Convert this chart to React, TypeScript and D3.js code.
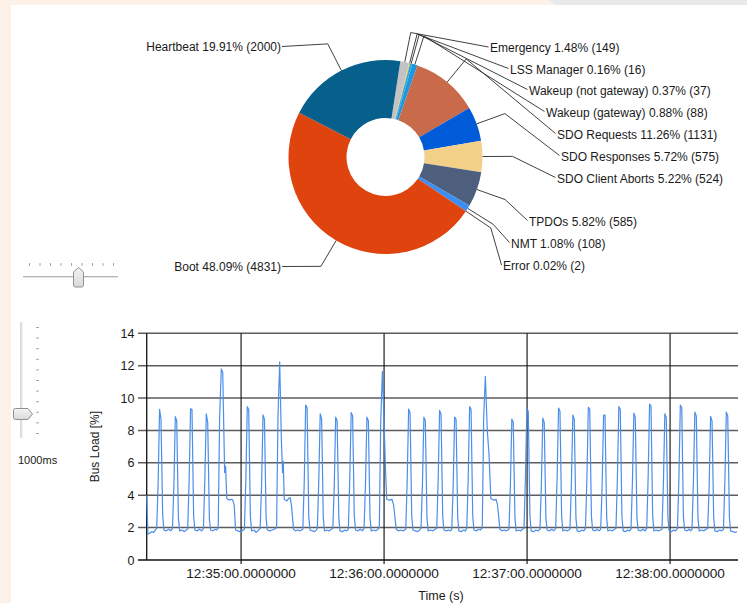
import React, { useEffect, useRef } from 'react'
import * as d3 from 'd3'

const WIDTH = 747
const HEIGHT = 603
const FONT = '"Liberation Sans", Arial, sans-serif'

// pie categories, clockwise from just right of 12 o'clock
const categories = [
    'Emergency',
    'LSS Manager',
    'Wakeup (not gateway)',
    'Wakeup (gateway)',
    'SDO Requests',
    'SDO Responses',
    'SDO Client Aborts',
    'TPDOs',
    'NMT',
    'Error',
    'Boot',
    'Heartbeat'
]
const counts = [149, 16, 37, 88, 1131, 575, 524, 585, 108, 2, 4831, 2000]
const percents = [1.48, 0.16, 0.37, 0.88, 11.26, 5.72, 5.22, 5.82, 1.08, 0.02, 48.09, 19.91]
const sliceColors = [
    '#c3c3c3',
    '#e8d25a',
    '#3aa6d6',
    '#1d98e0',
    '#c96a4b',
    '#005bd9',
    '#f2d088',
    '#4e5f7e',
    '#3b8ff0',
    '#8a8a8a',
    '#e0440e',
    '#07608c'
]

// label positions (x, y centre, anchor) as placed by the chart's smart labels
const labelAnchors: [number, number, string][] = [
    [490, 48, 'start'],
    [510, 69.5, 'start'],
    [529, 90.5, 'start'],
    [546, 112.5, 'start'],
    [557, 134.5, 'start'],
    [561, 156.5, 'start'],
    [557, 178.5, 'start'],
    [529, 221.5, 'start'],
    [511, 243.5, 'start'],
    [503, 266, 'start'],
    [281, 266.5, 'end'],
    [281, 46.5, 'end']
]

// bus load samples: [seconds after 12:34:00, load %]
const busLoad: [number, number][] = [
    [20.4, 4.0], [20.9, 1.6], [21.6, 1.65], [22.5, 1.75], [23.3, 1.7], [24.0, 1.85],
    [24.6, 1.95], [25.2, 4.8], [25.8, 9.3], [26.4, 8.7], [27.1, 2.8], [27.6, 1.85],
    [28.5, 1.8], [29.6, 1.9], [30.5, 1.8],
    [31.2, 1.95], [31.8, 4.5], [32.4, 8.85], [33.0, 8.6], [33.7, 2.6], [34.2, 1.8],
    [35.2, 1.85], [36.2, 1.75], [37.0, 1.85],
    [37.6, 1.9], [38.2, 4.9], [38.8, 9.33], [39.4, 9.3], [40.1, 2.7], [40.6, 1.85],
    [41.6, 1.8], [42.5, 1.9], [43.5, 1.8],
    [44.2, 1.95], [44.8, 5.0], [45.4, 9.02], [46.0, 8.5], [46.7, 2.5], [47.2, 1.85],
    [48.2, 1.8], [49.0, 1.9], [49.8, 1.85],
    [50.4, 2.0], [51.0, 8.8], [51.7, 11.8], [52.3, 11.6], [53.1, 5.4], [53.5, 5.8], [54.0, 3.8],
    [55.0, 3.7], [56.0, 3.75], [56.5, 3.7], [57.1, 3.4], [57.7, 1.85],
    [58.6, 1.8], [59.5, 1.75], [60.5, 1.8],
    [61.4, 1.9], [62.0, 5.0], [62.6, 9.47], [63.2, 9.3], [63.9, 2.7], [64.4, 1.8],
    [65.4, 1.85], [66.4, 1.7], [67.3, 1.85],
    [68.0, 1.95], [68.6, 4.6], [69.2, 8.96], [69.8, 8.7], [70.5, 2.6], [71.0, 1.85],
    [72.0, 1.8], [73.0, 1.85], [74.0, 1.9],
    [74.9, 2.0], [75.5, 9.0], [76.2, 12.23], [76.9, 7.5], [77.4, 5.4], [77.7, 6.1], [78.1, 3.75],
    [79.2, 3.65], [80.0, 3.8], [80.6, 3.85], [81.2, 3.3], [82.0, 1.9],
    [82.8, 1.8], [83.8, 1.85], [84.8, 1.8],
    [85.9, 1.9], [86.5, 4.8], [87.1, 9.57], [87.7, 9.4], [88.4, 2.7], [88.9, 1.85],
    [89.9, 1.8], [90.9, 1.75], [91.5, 1.85],
    [92.0, 1.95], [92.6, 4.9], [93.2, 9.03], [93.8, 8.7], [94.5, 2.6], [95.0, 1.8],
    [96.0, 1.85], [97.0, 1.8], [97.8, 1.9],
    [98.5, 1.95], [99.1, 4.6], [99.7, 8.82], [100.3, 8.6], [101.0, 2.6], [101.5, 1.8],
    [102.5, 1.75], [103.5, 1.85], [104.3, 1.8],
    [105.0, 1.9], [105.6, 5.0], [106.2, 9.11], [106.8, 8.9], [107.5, 2.7], [108.0, 1.85],
    [109.0, 1.8], [110.0, 1.9], [110.9, 1.8],
    [111.6, 1.95], [112.2, 4.7], [112.8, 8.82], [113.4, 8.6], [114.1, 2.6], [114.6, 1.8],
    [115.6, 1.85], [116.6, 1.8], [117.4, 1.9],
    [118.0, 2.0], [118.6, 8.6], [119.3, 11.65], [119.9, 9.0], [120.6, 5.6], [121.1, 3.75],
    [122.3, 3.7], [123.3, 3.75], [124.0, 3.4], [125.1, 1.9],
    [126.0, 1.8], [127.0, 1.85], [127.9, 1.8],
    [129.1, 1.9], [129.7, 4.9], [130.3, 9.32], [130.9, 9.1], [131.6, 2.7], [132.1, 1.85],
    [133.1, 1.8], [134.1, 1.75], [134.9, 1.85],
    [135.5, 1.95], [136.1, 4.7], [136.7, 8.82], [137.3, 8.6], [138.0, 2.6], [138.5, 1.8],
    [139.5, 1.85], [140.5, 1.8], [141.4, 1.9],
    [142.1, 1.95], [142.7, 5.0], [143.3, 9.24], [143.9, 9.0], [144.6, 2.7], [145.1, 1.85],
    [146.1, 1.8], [147.0, 1.85], [147.8, 1.8],
    [148.4, 1.9], [149.0, 4.6], [149.6, 8.82], [150.2, 8.7], [150.9, 2.6], [151.4, 1.8],
    [152.4, 1.75], [153.3, 1.85], [154.1, 1.8],
    [154.7, 1.95], [155.3, 5.1], [155.9, 9.48], [156.5, 9.3], [157.2, 2.7], [157.7, 1.85],
    [158.7, 1.8], [159.6, 1.9], [160.4, 1.85],
    [161.2, 2.0], [161.8, 8.9], [162.5, 11.34], [163.3, 8.0], [164.0, 6.6], [164.8, 3.8],
    [166.0, 3.7], [167.0, 3.75], [167.6, 3.4], [168.6, 1.9],
    [169.5, 1.8], [170.5, 1.85], [171.4, 1.8],
    [172.4, 1.9], [173.0, 4.6], [173.6, 8.7], [174.2, 8.5], [174.9, 2.6], [175.4, 1.8],
    [176.4, 1.85], [177.3, 1.8], [178.0, 1.9],
    [178.7, 1.95], [179.3, 5.0], [179.9, 9.32], [180.5, 9.2], [181.2, 2.7], [181.7, 1.8],
    [182.7, 1.75], [183.7, 1.85], [184.6, 1.8],
    [185.4, 1.9], [186.0, 4.7], [186.6, 8.76], [187.2, 8.5], [187.9, 2.6], [188.4, 1.85],
    [189.4, 1.8], [190.4, 1.9], [191.2, 1.8],
    [192.0, 1.95], [192.6, 5.0], [193.2, 9.38], [193.8, 9.2], [194.5, 2.7], [195.0, 1.8],
    [196.0, 1.85], [196.9, 1.8], [197.5, 1.85],
    [198.0, 1.9], [198.6, 4.8], [199.2, 8.95], [199.8, 8.7], [200.5, 2.6], [201.0, 1.8],
    [202.0, 1.75], [203.0, 1.85], [203.8, 1.8],
    [204.5, 1.95], [205.1, 5.0], [205.7, 9.42], [206.3, 9.3], [207.0, 2.7], [207.5, 1.85],
    [208.5, 1.8], [209.4, 1.9], [210.2, 1.8],
    [210.9, 1.9], [211.5, 4.7], [212.1, 8.95], [212.7, 8.95], [213.4, 2.6], [213.9, 1.8],
    [214.9, 1.85], [215.8, 1.8], [216.6, 1.9],
    [217.3, 1.95], [217.9, 5.1], [218.5, 9.48], [219.1, 9.3], [219.8, 2.7], [220.3, 1.8],
    [221.3, 1.75], [222.2, 1.85], [223.0, 1.8],
    [223.6, 1.9], [224.2, 4.8], [224.8, 9.07], [225.4, 8.8], [226.1, 2.6], [226.6, 1.85],
    [227.6, 1.8], [228.6, 1.9], [229.5, 1.8],
    [230.2, 1.95], [230.8, 5.1], [231.4, 9.63], [232.0, 9.5], [232.7, 2.7], [233.2, 1.8],
    [234.2, 1.85], [235.1, 1.8], [235.9, 1.85],
    [236.6, 1.9], [237.2, 4.7], [237.8, 9.03], [238.4, 8.8], [239.1, 2.6], [239.6, 1.8],
    [240.6, 1.75], [241.5, 1.85], [242.3, 1.8],
    [243.1, 1.95], [243.7, 5.0], [244.3, 9.57], [244.9, 9.4], [245.6, 2.7], [246.1, 1.85],
    [247.1, 1.8], [248.0, 1.9], [248.7, 1.8],
    [249.2, 1.9], [249.8, 4.9], [250.4, 9.13], [251.0, 8.9], [251.7, 2.6], [252.2, 1.8],
    [253.2, 1.85], [254.2, 1.8], [255.1, 1.9],
    [255.8, 1.95], [256.4, 4.6], [257.0, 8.87], [257.6, 8.6], [258.3, 2.6], [258.8, 1.8],
    [259.8, 1.75], [260.8, 1.85], [261.7, 1.8],
    [262.4, 1.9], [263.0, 4.9], [263.6, 9.13], [264.2, 8.9], [264.9, 2.6], [265.4, 1.8],
    [266.4, 1.75], [267.3, 1.7], [268.0, 1.75]
]

const Y_TICKS = [0, 2, 4, 6, 8, 10, 12, 14]
const T0 = new Date(2020, 0, 1, 12, 34, 0).getTime()
const toDate = (s: number) => new Date(T0 + s * 1000)
const TIME_DOMAIN = [20.4, 268.5]

const draw = (el: HTMLDivElement) => {
    d3.select(el).selectAll('*').remove()
    const svg = d3
        .select(el)
        .append('svg')
        .attr('width', WIDTH)
        .attr('height', HEIGHT)
        .attr('style', 'position:absolute;left:0;top:0')
        .style('font-family', FONT)

    // window background
    svg.append('rect').attr('width', WIDTH).attr('height', HEIGHT).attr('fill', '#ffffff')
    svg.append('rect').attr('width', 11).attr('height', HEIGHT).attr('fill', '#fdf2e9')
    svg.append('rect').attr('width', WIDTH).attr('height', 5).attr('fill', '#fdf2e9')
    svg.append('path').attr('d', 'M548,0 L747,0 L747,5 L556,5 Z').attr('fill', '#e7e9ea')

    // ---------- pie ----------
    const cx = 385.5
    const cy = 157
    const start = (8.8 * Math.PI) / 180
    const pie = d3
        .pie<number>()
        .sort(null)
        .value(d => d)
        .startAngle(start)
        .endAngle(start + 2 * Math.PI)
    const arcs = pie(counts)
    const arc = d3.arc<d3.PieArcDatum<number>>().innerRadius(39).outerRadius(97)

    const pieG = svg.append('g').attr('transform', `translate(${cx},${cy})`)
    pieG.selectAll('path')
        .data(arcs)
        .join('path')
        .attr('d', arc)
        .attr('fill', (d, i) => sliceColors[i])

    const polar = (a: number, r: number) => [cx + r * Math.sin(a), cy - r * Math.cos(a)]
    arcs.forEach((d, i) => {
        const mid = (d.startAngle + d.endAngle) / 2
        const [lx, ly, anchor] = labelAnchors[i]
        const p0 = polar(mid, 97)
        const p1 = polar(mid, 127)
        const p2 = anchor === 'start' ? [lx - 1.5, ly - 1] : [lx + 1, ly]
        svg.append('path')
            .attr('d', d3.line()([p0, p1, p2] as [number, number][]))
            .attr('fill', 'none')
            .attr('stroke', '#2b2b2b')
            .attr('stroke-width', 0.9)
        svg.append('text')
            .attr('x', lx)
            .attr('y', ly)
            .attr('dy', '0.35em')
            .attr('text-anchor', anchor)
            .attr('font-size', 12)
            .attr('fill', '#1a1a1a')
            .text(`${categories[i]} ${percents[i].toFixed(2)}% (${counts[i]})`)
    })

    // ---------- bus load line chart ----------
    const x = d3
        .scaleTime()
        .domain(TIME_DOMAIN.map(toDate))
        .range([146.7, 738])
    const y = d3.scaleLinear().domain([0, 14]).range([560, 333.3])

    // horizontal grid + left ticks
    svg.append('g')
        .selectAll('line')
        .data(Y_TICKS.filter(v => v > 0))
        .join('line')
        .attr('x1', 138)
        .attr('x2', 738)
        .attr('y1', d => y(d))
        .attr('y2', d => y(d))
        .attr('stroke', '#5c5c5c')
        .attr('stroke-width', 1.5)

    // vertical grid at each minute
    const minutes = d3.timeMinute.range(toDate(TIME_DOMAIN[0]), toDate(TIME_DOMAIN[1]))
    svg.append('g')
        .selectAll('line')
        .data(minutes)
        .join('line')
        .attr('x1', d => x(d))
        .attr('x2', d => x(d))
        .attr('y1', y(14))
        .attr('y2', 564)
        .attr('stroke', '#1e1e1e')
        .attr('stroke-width', 1.2)

    // axes
    svg.append('line')
        .attr('x1', 146.7)
        .attr('x2', 146.7)
        .attr('y1', y(14))
        .attr('y2', y(0))
        .attr('stroke', '#111')
        .attr('stroke-width', 1.3)
    svg.append('line')
        .attr('x1', 138)
        .attr('x2', 738)
        .attr('y1', y(0))
        .attr('y2', y(0))
        .attr('stroke', '#111')
        .attr('stroke-width', 1.3)

    svg.append('g')
        .selectAll('text')
        .data(Y_TICKS)
        .join('text')
        .attr('x', 134.5)
        .attr('y', d => y(d))
        .attr('dy', '0.36em')
        .attr('text-anchor', 'end')
        .attr('font-size', 12.5)
        .attr('fill', '#1a1a1a')
        .text(d => d)

    const fmt = d3.timeFormat('%H:%M:%S')
    svg.append('g')
        .selectAll('text')
        .data(minutes)
        .join('text')
        .attr('x', d => x(d))
        .attr('y', 577.5)
        .attr('text-anchor', 'middle')
        .attr('font-size', 13.6)
        .attr('fill', '#1a1a1a')
        .text(d => `${fmt(d)}.0000000`)

    svg.append('text')
        .attr('x', 441)
        .attr('y', 600)
        .attr('text-anchor', 'middle')
        .attr('font-size', 12.5)
        .attr('fill', '#1a1a1a')
        .text('Time (s)')

    svg.append('text')
        .attr('transform', `translate(99,${(y(0) + y(14)) / 2}) rotate(-90)`)
        .attr('text-anchor', 'middle')
        .attr('font-size', 12)
        .attr('fill', '#1a1a1a')
        .text('Bus Load [%]')

    const line = d3
        .line<[number, number]>()
        .x(d => x(toDate(d[0])))
        .y(d => y(d[1]))
    svg.append('path')
        .attr('d', line(busLoad))
        .attr('fill', 'none')
        .attr('stroke', '#4b8fe8')
        .attr('stroke-width', 1.2)
        .attr('stroke-linejoin', 'round')

    // ---------- slider controls ----------
    const grad = svg.append('defs').append('linearGradient').attr('id', 'thumb').attr('x1', 0).attr('x2', 0).attr('y1', 0).attr('y2', 1)
    grad.append('stop').attr('offset', 0).attr('stop-color', '#f4f4f4')
    grad.append('stop').attr('offset', 1).attr('stop-color', '#d9d9d9')

    // horizontal slider
    svg.append('line').attr('x1', 23).attr('x2', 118).attr('y1', 276.5).attr('y2', 276.5).attr('stroke', '#b4b4b4').attr('stroke-width', 1)
    svg.append('line').attr('x1', 23).attr('x2', 118).attr('y1', 277.5).attr('y2', 277.5).attr('stroke', '#e6e6e6').attr('stroke-width', 1)
    svg.append('g')
        .selectAll('line')
        .data(d3.range(9))
        .join('line')
        .attr('x1', i => 29.5 + i * 10.5)
        .attr('x2', i => 29.5 + i * 10.5)
        .attr('y1', 263)
        .attr('y2', 266)
        .attr('stroke', '#a8a8a8')
    svg.append('path')
        .attr('d', 'M73.5,272 L78.5,267.5 L83.5,272 L83.5,285 Q83.5,287 81.5,287 L75.5,287 Q73.5,287 73.5,285 Z')
        .attr('fill', 'url(#thumb)')
        .attr('stroke', '#8f9090')

    // vertical slider
    svg.append('line').attr('x1', 21).attr('x2', 21).attr('y1', 322).attr('y2', 438).attr('stroke', '#b4b4b4')
    svg.append('line').attr('x1', 22).attr('x2', 22).attr('y1', 322).attr('y2', 438).attr('stroke', '#e6e6e6')
    svg.append('g')
        .selectAll('line')
        .data(d3.range(11))
        .join('line')
        .attr('x1', 36)
        .attr('x2', 39)
        .attr('y1', i => 327.5 + i * 10.6)
        .attr('y2', i => 327.5 + i * 10.6)
        .attr('stroke', '#a8a8a8')
    svg.append('path')
        .attr('d', 'M15.5,408.5 L28,408.5 L32.5,414 L28,419.5 L15.5,419.5 Q13.5,419.5 13.5,417.5 L13.5,410.5 Q13.5,408.5 15.5,408.5 Z')
        .attr('fill', 'url(#thumb)')
        .attr('stroke', '#8f9090')

    svg.append('text')
        .attr('x', 18)
        .attr('y', 464)
        .attr('font-size', 11)
        .attr('fill', '#1a1a1a')
        .text('1000ms')
}

export default function App() {
    const ref = useRef<HTMLDivElement>(null)
    useEffect(() => {
        if (ref.current) draw(ref.current)
        const el = ref.current
        return () => {
            if (el) d3.select(el).selectAll('*').remove()
        }
    }, [])
    return <div ref={ref} />
}
